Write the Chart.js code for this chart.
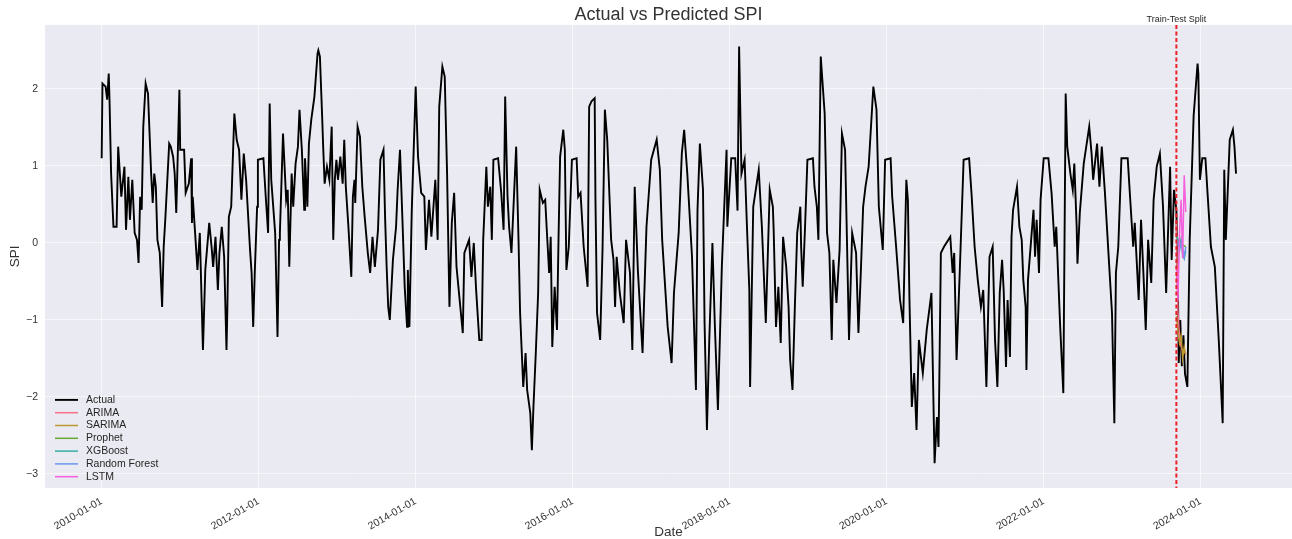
<!DOCTYPE html>
<html>
<head>
<meta charset="utf-8">
<title>Actual vs Predicted SPI</title>
<script src="https://cdn.jsdelivr.net/npm/chart.js@4.4.1/dist/chart.umd.min.js"></script>
<style>
  html, body { margin: 0; padding: 0; background: #ffffff; }
  canvas { display: block; }
</style>
</head>
<body>
<canvas id="spiChart" width="1292" height="539"></canvas>
<script>
// dates are decimal years (2010.50 = mid 2010)
const actualDates = [
  2010.00, 2010.01, 2010.05, 2010.07, 2010.09, 2010.10, 2010.12, 2010.15, 2010.19, 2010.21,
  2010.25, 2010.29, 2010.31, 2010.34, 2010.36, 2010.39, 2010.42, 2010.45, 2010.47, 2010.49,
  2010.51, 2010.53, 2010.56, 2010.59, 2010.63, 2010.65, 2010.67, 2010.69, 2010.71, 2010.74,
  2010.77, 2010.79, 2010.81, 2010.86, 2010.88, 2010.91, 2010.93, 2010.95, 2010.96, 2010.99,
  2011.00, 2011.05, 2011.07, 2011.11, 2011.14, 2011.15, 2011.16, 2011.19, 2011.22, 2011.25,
  2011.29, 2011.32, 2011.37, 2011.40, 2011.42, 2011.45, 2011.48, 2011.50, 2011.53, 2011.56,
  2011.59, 2011.60, 2011.62, 2011.65, 2011.69, 2011.72, 2011.75, 2011.78, 2011.81, 2011.84,
  2011.89, 2011.91, 2011.93, 2011.95, 2011.98, 2011.99, 2012.06, 2012.09, 2012.12, 2012.14,
  2012.16, 2012.21, 2012.24, 2012.26, 2012.27, 2012.31, 2012.35, 2012.37, 2012.39, 2012.42,
  2012.44, 2012.47, 2012.50, 2012.52, 2012.55, 2012.58, 2012.59, 2012.62, 2012.64, 2012.67,
  2012.71, 2012.75, 2012.76, 2012.78, 2012.81, 2012.82, 2012.84, 2012.87, 2012.90, 2012.93,
  2012.95, 2012.97, 2012.99, 2013.01, 2013.04, 2013.07, 2013.09, 2013.11, 2013.14, 2013.18,
  2013.20, 2013.22, 2013.23, 2013.26, 2013.29, 2013.32, 2013.35, 2013.39, 2013.42, 2013.45,
  2013.48, 2013.52, 2013.55, 2013.59, 2013.61, 2013.63, 2013.65, 2013.67, 2013.71, 2013.75,
  2013.77, 2013.80, 2013.83, 2013.86, 2013.89, 2013.90, 2013.92, 2013.95, 2013.98, 2014.00,
  2014.03, 2014.07, 2014.11, 2014.13, 2014.17, 2014.20, 2014.25, 2014.28, 2014.30, 2014.34,
  2014.37, 2014.40, 2014.43, 2014.46, 2014.49, 2014.52, 2014.60, 2014.62, 2014.68, 2014.71,
  2014.74, 2014.77, 2014.81, 2014.84, 2014.86, 2014.90, 2014.92, 2014.95, 2014.97, 2014.99,
  2015.05, 2015.09, 2015.12, 2015.14, 2015.17, 2015.19, 2015.22, 2015.28, 2015.31, 2015.33,
  2015.37, 2015.40, 2015.42, 2015.46, 2015.48, 2015.50, 2015.53, 2015.56, 2015.58, 2015.62,
  2015.65, 2015.67, 2015.70, 2015.72, 2015.74, 2015.77, 2015.80, 2015.82, 2015.84, 2015.88,
  2015.90, 2015.92, 2015.95, 2015.99, 2016.05, 2016.07, 2016.10, 2016.14, 2016.19, 2016.21,
  2016.24, 2016.28, 2016.29, 2016.31, 2016.35, 2016.38, 2016.41, 2016.44, 2016.46, 2016.49,
  2016.52, 2016.54, 2016.56, 2016.60, 2016.65, 2016.68, 2016.73, 2016.76, 2016.79, 2016.83,
  2016.89, 2016.91, 2016.94, 2017.00, 2017.07, 2017.11, 2017.14, 2017.21, 2017.26, 2017.29,
  2017.35, 2017.39, 2017.42, 2017.46, 2017.52, 2017.57, 2017.59, 2017.62, 2017.66, 2017.68,
  2017.71, 2017.74, 2017.78, 2017.81, 2017.85, 2017.90, 2017.96, 2017.97, 2018.02, 2018.07,
  2018.10, 2018.12, 2018.15, 2018.19, 2018.22, 2018.25, 2018.26, 2018.30, 2018.37, 2018.41,
  2018.46, 2018.51, 2018.55, 2018.56, 2018.59, 2018.62, 2018.65, 2018.68, 2018.72, 2018.75,
  2018.77, 2018.80, 2018.83, 2018.86, 2018.90, 2018.91, 2018.93, 2018.96, 2018.99, 2019.06,
  2019.08, 2019.11, 2019.13, 2019.16, 2019.18, 2019.21, 2019.24, 2019.27, 2019.30, 2019.32,
  2019.36, 2019.40, 2019.43, 2019.47, 2019.52, 2019.56, 2019.61, 2019.64, 2019.67, 2019.70,
  2019.73, 2019.77, 2019.83, 2019.87, 2019.90, 2019.95, 2019.98, 2020.05, 2020.07, 2020.12,
  2020.17, 2020.21, 2020.25, 2020.27, 2020.29, 2020.32, 2020.35, 2020.38, 2020.41, 2020.46,
  2020.51, 2020.57, 2020.61, 2020.64, 2020.66, 2020.69, 2020.73, 2020.81, 2020.84, 2020.86,
  2020.89, 2020.93, 2020.98, 2021.05, 2021.08, 2021.12, 2021.16, 2021.20, 2021.23, 2021.27,
  2021.31, 2021.35, 2021.38, 2021.41, 2021.44, 2021.47, 2021.49, 2021.52, 2021.54, 2021.57,
  2021.59, 2021.61, 2021.66, 2021.69, 2021.72, 2021.74, 2021.77, 2021.78, 2021.80, 2021.84,
  2021.87, 2021.89, 2021.91, 2021.94, 2021.96, 2022.00, 2022.06, 2022.10, 2022.14, 2022.16,
  2022.21, 2022.25, 2022.28, 2022.30, 2022.34, 2022.37, 2022.39, 2022.42, 2022.43, 2022.46,
  2022.51, 2022.58, 2022.61, 2022.63, 2022.68, 2022.71, 2022.74, 2022.78, 2022.83, 2022.87,
  2022.90, 2022.92, 2022.95, 2022.99, 2023.07, 2023.10, 2023.14, 2023.16, 2023.21, 2023.24,
  2023.27, 2023.30, 2023.33, 2023.37, 2023.40, 2023.44, 2023.48, 2023.52, 2023.56, 2023.61,
  2023.63, 2023.66, 2023.69, 2023.71, 2023.72, 2023.74, 2023.76, 2023.78, 2023.80, 2023.83,
  2023.86, 2023.91, 2023.96, 2023.97, 2023.99, 2024.02, 2024.06, 2024.09, 2024.13, 2024.18,
  2024.23, 2024.28, 2024.30, 2024.32, 2024.37, 2024.41, 2024.43, 2024.45
];
const actualSpi = [
  1.10, 2.07, 2.03, 1.86, 2.20, 1.85, 0.90, 0.21, 0.21, 1.25,
  0.60, 0.99, 0.17, 0.86, 0.30, 0.82, 0.13, 0.04, -0.26, 0.60,
  0.43, 1.51, 2.07, 1.94, 0.90, 0.52, 0.90, 0.73, 0.04, -0.13,
  -0.83, -0.05, 0.30, 1.29, 1.25, 1.12, 0.90, 0.39, 0.77, 1.99,
  1.21, 1.21, 0.65, 0.77, 1.10, 0.26, 0.60, 0.13, -0.35, 0.13,
  -1.39, -0.35, 0.26, -0.05, -0.31, 0.08, -0.61, -0.13, 0.21, -0.18,
  -1.39, -0.91, 0.34, 0.47, 1.68, 1.34, 1.21, 0.56, 1.16, 0.82,
  -0.09, -0.39, -1.09, -0.39, 0.47, 1.08, 1.10, 0.60, 0.13, 1.81,
  0.82, 0.13, -1.22, 0.04, 0.13, 1.42, 0.56, 0.69, -0.31, 0.90,
  0.47, 1.03, 1.25, 1.73, 1.21, 0.43, 1.10, 0.47, 1.29, 1.60,
  1.90, 2.46, 2.50, 2.42, 1.60, 1.29, 0.77, 0.99, 0.82, 1.51,
  0.04, 0.82, 1.08, 0.82, 1.12, 0.77, 1.34, 0.73, 0.26, -0.44,
  0.60, 0.82, 0.52, 1.51, 1.38, 0.73, 0.34, -0.13, -0.39, 0.08,
  -0.31, 0.17, 1.08, 1.21, 0.34, -0.31, -0.83, -1.00, -0.22, 0.21,
  0.69, 1.21, 0.34, -0.57, -1.09, -0.35, -1.09, 0.42, 1.38, 2.03,
  1.12, 0.65, 0.60, -0.09, 0.56, 0.08, 0.82, 0.04, 1.77, 2.29,
  2.16, 0.90, -0.83, 0.26, 0.65, -0.31, -1.17, -0.13, 0.04, -0.44,
  0.00, -0.61, -1.26, -1.26, 0.04, 0.99, 0.47, 0.73, 0.04, 1.08,
  1.10, 0.65, 0.17, 1.90, 0.60, 0.21, -0.13, 1.25, 0.04, -0.91,
  -1.87, -1.43, -1.91, -2.21, -2.69, -2.13, -1.43, -0.65, 0.69, 0.52,
  0.56, 0.17, -0.39, 0.08, -1.35, -0.57, -1.13, 0.08, 1.12, 1.47,
  1.21, -0.35, -0.05, 1.08, 1.10, 0.60, 0.65, -0.05, -0.57, 1.77,
  1.84, 1.88, 0.56, -0.91, -1.26, -0.09, 1.73, 1.34, 0.82, 0.04,
  -0.22, -0.83, -0.18, -0.65, -1.04, 0.04, -0.39, -1.39, 0.73, -0.35,
  -1.43, -0.74, 0.21, 1.08, 1.34, 0.95, 0.04, -1.09, -1.56, -0.65,
  0.13, 1.16, 1.47, 0.90, -0.18, -1.91, 0.43, 1.29, 0.69, -1.04,
  -2.43, -1.26, 0.00, -1.04, -2.17, -0.31, 1.21, 0.21, 1.10, 1.10,
  0.42, 2.55, 0.90, 1.08, 0.21, -0.61, -1.87, 0.47, 0.95, 0.21,
  -1.04, 0.69, 0.47, 0.17, -1.09, -0.57, -1.30, 0.08, -0.31, -0.83,
  -1.52, -1.91, -0.83, 0.13, 0.47, -0.05, -0.57, 0.21, 1.08, 1.10,
  0.73, 0.47, 0.04, 2.42, 2.12, 1.68, 0.13, -0.13, -1.26, -0.22,
  -0.78, -0.09, 1.42, 1.21, -1.26, 0.13, -0.13, -1.17, -0.39, 0.47,
  0.73, 0.99, 2.03, 1.73, 0.47, -0.09, 1.08, 1.10, 0.60, -0.05,
  -0.74, -1.04, 0.82, 0.56, -0.74, -2.13, -1.69, -2.43, -1.26, -1.69,
  -1.13, -0.65, -2.86, -2.26, -2.65, -0.13, -0.05, 0.08, -0.39, -0.13,
  -1.52, -0.39, 1.08, 1.10, 0.65, -0.05, -0.48, -0.83, -0.61, -1.87,
  -0.18, -0.05, -1.26, -1.87, -0.65, -0.22, -0.61, -1.61, -0.74, -1.48,
  0.08, 0.43, 0.73, 0.21, 0.04, -0.48, -0.83, -1.65, -0.48, 0.04,
  0.43, -0.18, 0.30, -0.39, 0.56, 1.10, 1.10, 0.65, -0.05, 0.21,
  -1.09, -1.95, 1.94, 1.25, 0.90, 0.69, 1.03, 0.21, -0.27, 0.39,
  1.03, 1.51, 1.16, 0.82, 1.29, 0.73, 1.25, 0.65, -0.22, -0.91,
  -2.34, -0.39, -0.05, 1.10, 1.10, 0.60, -0.05, 0.26, -0.74, 0.30,
  -0.39, -1.13, 0.04, -0.52, 0.56, 0.99, 1.16, 0.47, -0.65, 0.99,
  -0.22, 0.69, 0.43, -0.60, -1.56, -1.00, -1.60, -1.20, -1.70, -1.87,
  0.04, 1.65, 2.33, 2.20, 0.82, 1.10, 1.10, 0.60, -0.05, -0.31,
  -1.26, -2.34, 0.95, 0.04, 1.34, 1.47, 1.25, 0.90
];

// test period predictions
const testDates = [2023.69, 2023.71, 2023.73, 2023.75, 2023.77, 2023.79, 2023.81];
const arimaSpi = [0.30, -0.90, -1.20, -1.35, -1.40, -1.40, -1.45];
const sarimaSpi = [-0.95, -1.15, -1.30, -1.20, -1.50, -1.35, -1.45];
const prophetSpi = [0.08, 0.05, 0.02, 0.00, -0.02, -0.04, -0.05];
const xgboostSpi = [0.10, 0.05, -0.05, 0.05, -0.15, -0.20, -0.10];
const rforestSpi = [0.05, 0.00, -0.10, 0.00, -0.05, -0.18, -0.05];
const lstmSpi = [-0.30, -0.75, 0.10, 0.56, -0.20, 0.88, 0.40];

const splitDate = 2023.69;
const xTickYears = [2010, 2012, 2014, 2016, 2018, 2020, 2022, 2024];
const yTicks = [-3, -2, -1, 0, 1, 2];

const FONT = '"Liberation Sans", Arial, sans-serif';
const TEXT = '#262626';

function points(xs, ys) {
  return xs.map(function(x, i) { return { x: x, y: ys[i] }; });
}

// grey axes background like seaborn darkgrid
const bgPlugin = {
  id: 'plotBg',
  beforeDraw: function(chart) {
    const a = chart.chartArea;
    const ctx = chart.ctx;
    ctx.save();
    ctx.fillStyle = '#eaeaf2';
    ctx.fillRect(a.left, a.top, a.right - a.left, a.bottom - a.top);
    ctx.restore();
  }
};

// red dashed train/test split line with its label
const splitPlugin = {
  id: 'splitLine',
  afterDatasetsDraw: function(chart) {
    const a = chart.chartArea;
    const ctx = chart.ctx;
    const x = chart.scales.x.getPixelForValue(splitDate);
    ctx.save();
    ctx.strokeStyle = '#e8222a';
    ctx.lineWidth = 2;
    ctx.setLineDash([4, 2.5]);
    ctx.beginPath();
    ctx.moveTo(x, a.top);
    ctx.lineTo(x, a.bottom);
    ctx.stroke();
    ctx.setLineDash([]);
    ctx.fillStyle = TEXT;
    ctx.font = '9px ' + FONT;
    ctx.textAlign = 'center';
    ctx.textBaseline = 'bottom';
    ctx.fillText('Train-Test Split', x, a.top - 1);
    ctx.restore();
  }
};

// legend in the lower left corner of the plot
const legendPlugin = {
  id: 'insideLegend',
  afterDraw: function(chart) {
    const a = chart.chartArea;
    const ctx = chart.ctx;
    const sets = chart.data.datasets;
    ctx.save();
    ctx.font = '10.5px ' + FONT;
    ctx.textBaseline = 'middle';
    ctx.textAlign = 'left';
    sets.forEach(function(ds, i) {
      const y = a.bottom - 11.3 - (sets.length - 1 - i) * 12.8;
      ctx.strokeStyle = ds.borderColor;
      ctx.lineWidth = ds.borderWidth;
      ctx.beginPath();
      ctx.moveTo(a.left + 10, y);
      ctx.lineTo(a.left + 33, y);
      ctx.stroke();
      ctx.fillStyle = TEXT;
      ctx.fillText(ds.label, a.left + 41, y);
    });
    ctx.restore();
  }
};

function lineSet(label, xs, ys, color, width, order) {
  return {
    label: label,
    data: points(xs, ys),
    borderColor: color,
    backgroundColor: color,
    borderWidth: width,
    pointRadius: 0,
    tension: 0,
    fill: false,
    order: order
  };
}

const ctx = document.getElementById('spiChart').getContext('2d');
new Chart(ctx, {
  type: 'line',
  data: {
    datasets: [
      lineSet('Actual', actualDates, actualSpi, '#000000', 1.9, 7),
      lineSet('ARIMA', testDates, arimaSpi, '#f77189', 1.5, 6),
      lineSet('SARIMA', testDates, sarimaSpi, '#bb9832', 1.5, 5),
      lineSet('Prophet', testDates, prophetSpi, '#6aa832', 1.5, 4),
      lineSet('XGBoost', testDates, xgboostSpi, '#36ada4', 1.5, 3),
      lineSet('Random Forest', testDates, rforestSpi, '#6b96ee', 1.5, 2),
      lineSet('LSTM', testDates, lstmSpi, '#f561dd', 1.5, 1)
    ]
  },
  options: {
    responsive: false,
    animation: false,
    layout: { padding: 0 },
    plugins: {
      legend: { display: false },
      tooltip: { enabled: false },
      title: {
        display: true,
        text: 'Actual vs Predicted SPI',
        fullSize: false,
        color: '#333333',
        font: { family: FONT, size: 18, weight: 'normal', lineHeight: 1.05 },
        padding: { top: 6, bottom: 0 }
      }
    },
    scales: {
      x: {
        type: 'linear',
        min: 2009.278,
        max: 2025.163,
        grid: { color: 'rgba(255,255,255,0.6)', lineWidth: 1, drawTicks: false },
        border: { display: false },
        ticks: {
          autoSkip: false,
          minRotation: 30,
          maxRotation: 30,
          padding: 7,
          color: '#333333',
          font: { family: FONT, size: 10.5 },
          callback: function(v) { return v + '-01-01'; }
        },
        title: {
          display: true,
          text: 'Date',
          color: '#333333',
          font: { family: FONT, size: 13.5, lineHeight: 1 },
          padding: { top: 0, bottom: 0 }
        },
        afterBuildTicks: function(scale) {
          scale.ticks = xTickYears.map(function(v) { return { value: v }; });
        },
        afterFit: function(scale) { scale.height = 51; }
      },
      y: {
        min: -3.182,
        max: 2.831,
        grid: { color: 'rgba(255,255,255,0.6)', lineWidth: 1, drawTicks: false },
        border: { display: false },
        ticks: {
          padding: 7,
          color: '#333333',
          font: { family: FONT, size: 10.5 },
          callback: function(v) { return v < 0 ? '\u2212' + Math.abs(v) : String(v); }
        },
        title: {
          display: true,
          text: 'SPI',
          color: '#333333',
          font: { family: FONT, size: 13.5 },
          padding: { top: 7, bottom: 0 }
        },
        afterBuildTicks: function(scale) {
          scale.ticks = yTicks.map(function(v) { return { value: v }; });
        },
        afterFit: function(scale) { scale.width = 45; }
      }
    }
  },
  plugins: [bgPlugin, splitPlugin, legendPlugin]
});
</script>
</body>
</html>
